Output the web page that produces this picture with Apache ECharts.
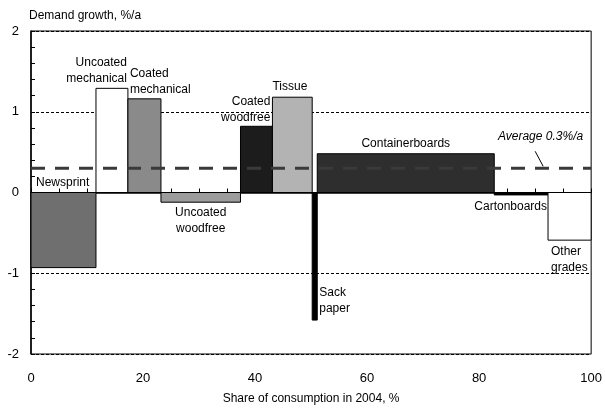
<!DOCTYPE html>
<html>
<head>
<meta charset="utf-8">
<script src="https://cdn.jsdelivr.net/npm/echarts@6/dist/echarts.min.js"></script>
<style>
  html, body { margin: 0; background: #fff; }
  #main { width: 605px; height: 410px; }
</style>
</head>
<body>
<div id="main"></div>
<script>
// paper grades, share of 2004 consumption (%) and demand growth (%/a)
const grades = ['Newsprint', 'Uncoated\nmechanical', 'Coated\nmechanical', 'Uncoated\nwoodfree',
  'Coated\nwoodfree', 'Tissue', 'Sack\npaper', 'Containerboards', 'Cartonboards', 'Other\ngrades'];
const shares = [11.6, 5.7, 5.9, 14.2, 5.7, 7.1, 0.9, 31.6, 9.6, 7.7];
const growth = [-0.93, 1.29, 1.16, -0.12, 0.82, 1.18, -1.58, 0.48, -0.03, -0.59];
const average = 0.3;
const averageText = 'Average 0.3%/a';
const xTicks = [0, 20, 40, 60, 80, 100];
const yTicks = [-2, -1, 0, 1, 2];

const FONT = "'Liberation Sans Narrow', 'Arial Narrow', 'Liberation Sans', sans-serif";

// fills for each bar
const fills = ['#6f6f6f', '#ffffff', '#8a8a8a', '#9c9c9c', '#1c1c1c', '#b3b3b3', '#000000', '#2e2e2e', '#000000', '#ffffff'];
// label placement: [anchorX, dx, anchorY, dy, align, verticalAlign]
const labelPlace = [
  ['left', 5, 'zero', -2, 'left', 'bottom'],
  ['right', -1, 'end', -2, 'right', 'bottom'],
  ['left', 2, 'end', -1, 'left', 'bottom'],
  ['mid', 0, 'end', 2, 'center', 'top'],
  ['right', -2, 'end', -1, 'right', 'bottom'],
  ['left', 0, 'end', -3, 'left', 'bottom'],
  ['right', 2, 'end', -3, 'left', 'bottom'],
  ['mid', 0, 'end', -2, 'center', 'bottom'],
  ['right', -1, 'end', 4, 'right', 'top'],
  ['left', 3, 'end', 4, 'left', 'top']
];

let acc = 0;
const barData = shares.map((s, i) => {
  const d = [acc, acc + s, growth[i]];
  acc += s;
  return d;
});

const myChart = echarts.init(document.getElementById('main'));
myChart.setOption({
  animation: false,
  grid: { left: 31, right: 12, top: 31, bottom: 56, show: true, borderColor: '#000', borderWidth: 1 },
  xAxis: {
    type: 'value', min: xTicks[0], max: xTicks[xTicks.length - 1], interval: 20,
    name: 'Share of consumption in 2004, %', nameLocation: 'middle', nameGap: 39,
    nameTextStyle: { color: '#000', fontFamily: FONT, fontSize: 12 },
    axisLine: { show: true, lineStyle: { color: '#000', width: 1.5 } },
    axisTick: { inside: true, length: 4, lineStyle: { color: '#000' } },
    minorTick: { show: true, splitNumber: 4, length: 4, lineStyle: { color: '#000' } },
    axisLabel: { color: '#000', fontFamily: "'Liberation Sans', sans-serif", fontSize: 13, margin: 18 },
    splitLine: { show: false }
  },
  yAxis: {
    type: 'value', min: yTicks[0], max: yTicks[yTicks.length - 1], interval: 1,
    name: 'Demand growth, %/a', nameLocation: 'end', nameGap: 9,
    nameTextStyle: { color: '#000', fontFamily: FONT, fontSize: 12, align: 'left', padding: [0, 0, 0, -2] },
    axisLine: { show: true, lineStyle: { color: '#000', width: 1.5 } },
    axisTick: { inside: true, length: 4, lineStyle: { color: '#000' } },
    minorTick: { show: true, splitNumber: 5, length: 4, lineStyle: { color: '#000' } },
    axisLabel: { color: '#000', fontFamily: "'Liberation Sans', sans-serif", fontSize: 13, margin: 12 },
    splitLine: { show: true, lineStyle: { color: '#000', width: 1, type: [3, 2] } }
  },
  series: [
    {
      type: 'custom',
      data: barData,
      z: 2,
      renderItem: function (params, api) {
        const i = params.dataIndex;
        const p0 = api.coord([api.value(0), 0]);
        const p1 = api.coord([api.value(1), api.value(2)]);
        const left = p0[0], right = p1[0], zeroY = p0[1], endY = p1[1];
        const L = labelPlace[i];
        const ax = L[0] === 'left' ? left : (L[0] === 'right' ? right : (left + right) / 2);
        const ay = L[2] === 'zero' ? zeroY : endY;
        return {
          type: 'group',
          children: [
            {
              type: 'rect',
              shape: { x: left, y: Math.min(zeroY, endY), width: right - left, height: Math.abs(endY - zeroY) },
              style: { fill: fills[i], stroke: '#000', lineWidth: 1 }
            },
            {
              type: 'text', x: ax + L[1], y: ay + L[3],
              style: {
                text: grades[i], fill: '#000', font: '12px ' + FONT,
                align: L[4], verticalAlign: L[5], lineHeight: 16
              }
            }
          ]
        };
      },
      markLine: {
        silent: true, symbol: 'none', label: { show: false },
        lineStyle: { color: '#000', type: 'solid', width: 1 },
        data: [{ yAxis: 0 }]
      }
    },
    {
      type: 'custom',
      data: [[average]],
      z: 3,
      renderItem: function (params, api) {
        const a = api.coord([xTicks[0], api.value(0)]);
        const b = api.coord([xTicks[xTicks.length - 1], api.value(0)]);
        return {
          type: 'group',
          children: [
            {
              type: 'line', shape: { x1: a[0], y1: a[1], x2: b[0], y2: b[1] },
              style: { stroke: '#3a3a3a', lineWidth: 3, lineDash: [14, 10] }
            },
            {
              type: 'line', shape: { x1: b[0] - 56, y1: b[1] - 17, x2: b[0] - 48, y2: b[1] - 2 },
              style: { stroke: '#000', lineWidth: 1 }
            },
            {
              type: 'text', x: b[0] - 8, y: b[1] - 32,
              style: {
                text: averageText, fill: '#000', font: 'italic 12px ' + FONT,
                align: 'right', verticalAlign: 'middle'
              }
            }
          ]
        };
      }
    }
  ]
});
</script>
</body>
</html>
